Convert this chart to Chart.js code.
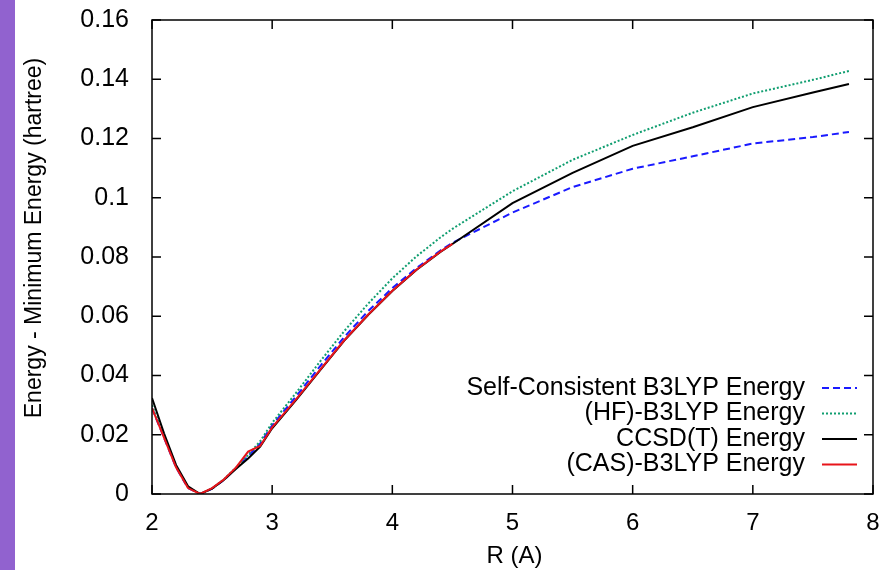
<!DOCTYPE html>
<html>
<head>
  <meta charset="UTF-8">
  <title>Energy curves</title>
  <script src="https://cdn.jsdelivr.net/npm/chart.js"></script>
  <style>
    body { margin: 0; background: #fff; }
    #wrap { position: relative; width: 886px; height: 570px; }
  </style>
</head>
<body>
  <div id="wrap">
    <canvas id="energyChart" width="886" height="570"></canvas>
  </div>
  <script>
    // bond length R (A)
    const rValues = [2.0, 2.1, 2.2, 2.3, 2.4, 2.5, 2.6, 2.7, 2.8, 2.9, 3.0, 3.2, 3.4, 3.6, 3.8, 4.0, 4.2, 4.4, 4.5, 5.0, 5.5, 6.0, 6.5, 7.0, 7.5, 7.8];

    // energy - minimum energy (hartree)
    const scB3lyp  = [0.0290, 0.0190, 0.0090, 0.0020, 0.0000, 0.0018, 0.0048, 0.0088, 0.0128, 0.0170, 0.0232, 0.0330, 0.0432, 0.0530, 0.0618, 0.0695, 0.0762, 0.0822, 0.0848, 0.0950, 0.1036, 0.1098, 0.1140, 0.1183, 0.1205, 0.1222];
    const hfB3lyp  = [0.0300, 0.0195, 0.0092, 0.0022, 0.0000, 0.0019, 0.0050, 0.0090, 0.0132, 0.0178, 0.0240, 0.0342, 0.0448, 0.0550, 0.0643, 0.0728, 0.0802, 0.0866, 0.0895, 0.1022, 0.1128, 0.1212, 0.1287, 0.1352, 0.1398, 0.1428];
    const ccsdt    = [0.0324, 0.0205, 0.0098, 0.0026, 0.0000, 0.0018, 0.0048, 0.0085, 0.0120, 0.0160, 0.0222, 0.0318, 0.0418, 0.0518, 0.0605, 0.0685, 0.0756, 0.0817, 0.0844, 0.0982, 0.1084, 0.1175, 0.1238, 0.1306, 0.1355, 0.1384];
    const casB3lyp = [0.0290, 0.0190, 0.0090, 0.0020, 0.0000, 0.0020, 0.0050, 0.0090, 0.0143, 0.0162, 0.0225, 0.0320, 0.0420, 0.0519, 0.0606, 0.0686, 0.0757, 0.0818, 0.0844, null, null, null, null, null, null, null];

    const xTicks = [2, 3, 4, 5, 6, 7, 8];
    const yTicks = [0, 0.02, 0.04, 0.06, 0.08, 0.1, 0.12, 0.14, 0.16];

    const FONT = "'Liberation Sans', Arial, sans-serif";

    function toPoints(ys) {
      return rValues.map((r, i) => ({ x: r, y: ys[i] }));
    }

    function noPad(s) {
      s.paddingLeft = 0;
      s.paddingRight = 0;
      s.paddingTop = 0;
      s.paddingBottom = 0;
    }

    // gnuplot-like frame, inward ticks, titles and key
    const framePlugin = {
      id: "frame",
      beforeDraw(chart) {
        const ctx = chart.ctx;
        ctx.save();
        ctx.fillStyle = "#fff";
        ctx.fillRect(0, 0, chart.width, chart.height);
        ctx.fillStyle = "#9162cf";
        ctx.fillRect(0, 0, 15, chart.height);
        ctx.restore();
      },
      afterDatasetsDraw(chart) {
        const { ctx, chartArea: a, scales } = chart;
        const tick = 9;
        ctx.save();
        ctx.strokeStyle = "#000";
        ctx.lineWidth = 1.5;
        ctx.strokeRect(a.left, a.top, a.right - a.left, a.bottom - a.top);
        ctx.beginPath();
        xTicks.forEach(v => {
          const px = scales.x.getPixelForValue(v);
          ctx.moveTo(px, a.bottom); ctx.lineTo(px, a.bottom - tick);
          ctx.moveTo(px, a.top); ctx.lineTo(px, a.top + tick);
        });
        yTicks.forEach(v => {
          const py = scales.y.getPixelForValue(v);
          ctx.moveTo(a.left, py); ctx.lineTo(a.left + tick, py);
          ctx.moveTo(a.right, py); ctx.lineTo(a.right - tick, py);
        });
        ctx.stroke();

        // axis titles
        ctx.fillStyle = "#000";
        ctx.textAlign = "center";
        ctx.textBaseline = "middle";
        ctx.font = "24px " + FONT;
        ctx.fillText("R (A)", (a.left + a.right) / 2 + 2, 556);
        ctx.save();
        ctx.translate(35, 238);
        ctx.rotate(-Math.PI / 2);
        ctx.font = "23px " + FONT;
        ctx.fillText("Energy - Minimum Energy (hartree)", 0, 0);
        ctx.restore();

        // key
        ctx.font = "25px " + FONT;
        ctx.textAlign = "right";
        chart.data.datasets.forEach((ds, i) => {
          const y = 388 + i * 25.5;
          ctx.fillStyle = "#000";
          ctx.fillText(ds.label, 805, y);
          ctx.beginPath();
          ctx.strokeStyle = ds.borderColor;
          ctx.lineWidth = ds.borderWidth;
          ctx.setLineDash(ds.borderDash || []);
          ctx.moveTo(822, y);
          ctx.lineTo(857, y);
          ctx.stroke();
          ctx.setLineDash([]);
        });
        ctx.restore();
      }
    };

    new Chart(document.getElementById("energyChart"), {
      type: "line",
      data: {
        datasets: [
          {
            label: "Self-Consistent B3LYP Energy",
            data: toPoints(scB3lyp),
            borderColor: "#1a1aff",
            borderWidth: 2,
            borderDash: [7, 4],
            order: 3
          },
          {
            label: "(HF)-B3LYP Energy",
            data: toPoints(hfB3lyp),
            borderColor: "#109e70",
            borderWidth: 2,
            borderDash: [2, 2],
            order: 2
          },
          {
            label: "CCSD(T) Energy",
            data: toPoints(ccsdt),
            borderColor: "#000",
            borderWidth: 2,
            order: 1
          },
          {
            label: "(CAS)-B3LYP Energy",
            data: toPoints(casB3lyp),
            borderColor: "#e8141a",
            borderWidth: 2,
            order: 0
          }
        ]
      },
      options: {
        responsive: false,
        animation: false,
        layout: { padding: { top: 20, right: 13, left: 0, bottom: 0 } },
        elements: {
          point: { radius: 0 },
          line: { tension: 0, fill: false }
        },
        plugins: {
          legend: { display: false },
          tooltip: { enabled: false }
        },
        scales: {
          x: {
            type: "linear",
            min: 2,
            max: 8,
            afterFit: s => { s.height = 76; noPad(s); },
            afterBuildTicks: s => { s.ticks = xTicks.map(v => ({ value: v })); },
            grid: { display: false },
            border: { display: false },
            ticks: {
              padding: 7,
              color: "#000",
              font: { family: FONT, size: 24 },
              callback: v => String(v)
            }
          },
          y: {
            min: 0,
            max: 0.16,
            afterFit: s => { s.width = 152; noPad(s); },
            afterBuildTicks: s => { s.ticks = yTicks.map(v => ({ value: v })); },
            grid: { display: false },
            border: { display: false },
            ticks: {
              padding: 15,
              color: "#000",
              font: { family: FONT, size: 25 },
              callback: v => String(Math.round(v * 100) / 100)
            }
          }
        }
      },
      plugins: [framePlugin]
    });
  </script>
</body>
</html>
